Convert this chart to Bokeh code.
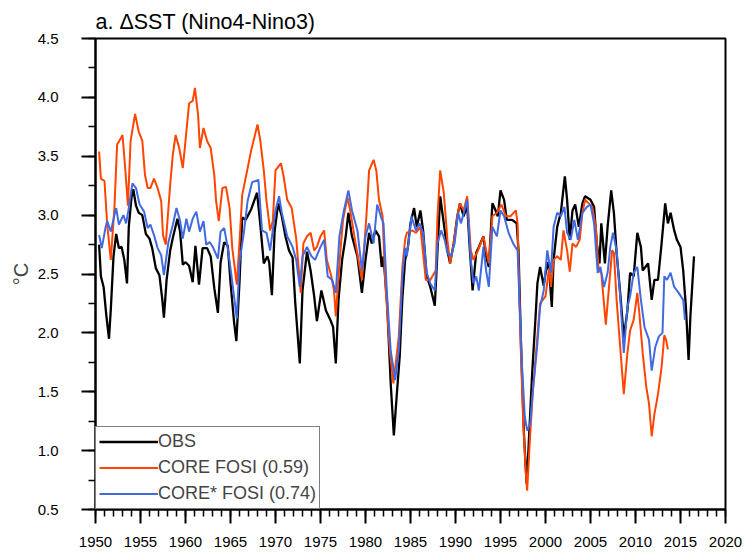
from bokeh.plotting import figure
from bokeh.models import (ColumnDataSource, Range1d, SingleIntervalTicker, PrintfTickFormatter,
                          Legend, LegendItem)
from bokeh.embed import file_html
from bokeh.resources import INLINE

# ---------------- data ----------------
obs_year = [1950.4, 1950.6, 1950.9, 1951.2, 1951.5, 1951.7, 1952.0, 1952.3, 1952.6, 1952.9,
            1953.2, 1953.5, 1953.7, 1954.0, 1954.2, 1954.5, 1954.8, 1955.2, 1955.6, 1956.0,
            1956.3, 1956.7, 1957.1, 1957.4, 1957.6, 1957.9, 1958.3, 1958.6, 1959.1, 1959.4,
            1959.7, 1960.0, 1960.4, 1960.8, 1961.1, 1961.5, 1961.9, 1962.4, 1962.8, 1963.2,
            1963.6, 1963.9, 1964.3, 1964.7, 1965.0, 1965.4, 1965.65, 1966.0, 1966.3, 1966.7,
            1967.3, 1967.95, 1968.3, 1968.7, 1969.1, 1969.3, 1969.6, 1969.9, 1970.3, 1970.7,
            1971.1, 1971.5, 1971.9, 1972.2, 1972.7, 1973.0, 1973.5, 1973.9, 1974.3, 1974.6,
            1975.1, 1975.6, 1976.1, 1976.4, 1976.7, 1977.0, 1977.4, 1977.8, 1978.1, 1978.5,
            1979.1, 1979.6, 1980.0, 1980.4, 1980.7, 1981.1, 1981.5, 1981.8, 1982.0, 1982.4,
            1982.8, 1983.15, 1983.5, 1983.8, 1984.1, 1984.4, 1984.7, 1985.0, 1985.4, 1985.7,
            1986.1, 1986.4, 1986.8, 1987.2, 1987.7, 1988.0, 1988.3, 1988.7, 1989.1, 1989.4,
            1989.8, 1990.2, 1990.5, 1990.9, 1991.3, 1991.6, 1991.9, 1992.3, 1992.6, 1993.1,
            1993.4, 1993.7, 1994.1, 1994.4, 1994.7, 1995.0, 1995.4, 1995.7, 1996.3, 1996.8,
            1997.0, 1997.3, 1997.6, 1997.9, 1998.1, 1998.5, 1998.9, 1999.1, 1999.4, 1999.8,
            2000.2, 2000.4, 2000.7, 2000.9, 2001.3, 2001.7, 2002.15, 2002.4, 2002.7, 2003.0,
            2003.3, 2003.7, 2004.1, 2004.4, 2005.0, 2005.4, 2005.7, 2006.0, 2006.2, 2006.6,
            2006.9, 2007.3, 2007.6, 2007.9, 2008.3, 2008.7, 2009.1, 2009.4, 2009.8, 2010.2,
            2010.6, 2010.8, 2011.1, 2011.4, 2011.8, 2012.1, 2012.5, 2012.9, 2013.3, 2013.6,
            2013.9, 2014.3, 2014.6, 2015.0, 2015.3, 2015.6, 2015.9, 2016.1, 2016.5]
obs_val = [2.75, 2.48, 2.39, 2.15, 1.95, 2.2, 2.65, 2.84, 2.72, 2.73,
           2.62, 2.42, 2.9, 3.15, 3.22, 3.08, 3.02, 3.0, 2.84, 2.8,
           2.72, 2.55, 2.49, 2.3, 2.13, 2.45, 2.7, 2.81, 2.97, 2.86,
           2.58, 2.6, 2.57, 2.43, 2.74, 2.41, 2.72, 2.72, 2.65, 2.38,
           2.17, 2.6, 2.77, 2.74, 2.43, 2.09, 1.93, 2.43, 2.98, 2.96,
           3.05, 3.19, 2.93, 2.59, 2.65, 2.6, 2.32, 2.86, 3.1, 2.99,
           2.82, 2.7, 2.64, 2.25, 1.74, 2.36, 2.69, 2.53, 2.31, 2.1,
           2.36, 2.19, 2.11, 2.05, 1.74, 2.28, 2.62, 2.82, 3.02, 2.82,
           2.65, 2.34, 2.62, 2.85, 2.76, 2.87, 2.82, 2.56, 2.65, 2.25,
           1.57, 1.13, 1.5, 1.8, 2.3, 2.62, 2.72, 2.93, 3.06, 2.9,
           3.04, 2.87, 2.48, 2.39, 2.23, 2.7, 3.16, 2.93, 2.7, 2.59,
           2.76, 2.99, 3.1, 2.99, 3.08, 2.7, 2.36, 2.68, 2.73, 2.82,
           2.65, 2.56, 3.1, 3.05, 2.99, 3.21, 3.13, 2.96, 2.96, 2.93,
           2.7, 1.85, 1.15, 0.72, 1.0, 1.63, 2.14, 2.42, 2.56, 2.4,
           2.6, 2.53, 2.22, 2.62, 2.9, 3.02, 3.33, 3.13, 2.79, 3.04,
           3.09, 2.9, 3.1, 3.16, 3.13, 3.07, 2.76, 2.59, 2.93, 2.59,
           2.9, 3.21, 3.02, 2.68, 2.34, 1.96, 2.19, 2.51, 2.48, 2.85,
           2.73, 2.53, 2.56, 2.59, 2.28, 2.45, 2.45, 2.76, 3.1, 2.93,
           3.02, 2.87, 2.79, 2.73, 2.53, 2.22, 1.77, 2.14, 2.65]

core_year = [1950.4, 1950.6, 1951.0, 1951.3, 1951.7, 1952.1, 1952.4, 1952.8, 1953.0, 1953.3,
             1953.6, 1953.9, 1954.4, 1954.8, 1955.2, 1955.5, 1955.8, 1956.1, 1956.5, 1956.9,
             1957.3, 1957.5, 1957.8, 1958.3, 1958.6, 1958.9, 1959.3, 1959.7, 1960.0, 1960.4,
             1960.8, 1961.05, 1961.4, 1961.6, 1962.0, 1962.4, 1962.8, 1963.2, 1963.4, 1963.7,
             1964.1, 1964.5, 1964.9, 1965.2, 1965.7, 1966.0, 1966.3, 1966.8, 1967.3, 1968.0,
             1968.3, 1968.7, 1969.0, 1969.4, 1969.7, 1970.0, 1970.6, 1970.9, 1971.3, 1971.8,
             1972.3, 1972.8, 1973.1, 1973.5, 1973.9, 1974.3, 1974.6, 1975.0, 1975.4, 1975.7,
             1976.2, 1976.5, 1976.7, 1977.1, 1977.5, 1978.0, 1978.3, 1978.9, 1979.6, 1980.1,
             1980.4, 1980.9, 1981.2, 1981.5, 1981.9, 1982.2, 1982.7, 1983.1, 1983.7, 1984.1,
             1984.4, 1984.6, 1985.2, 1985.6, 1986.1, 1986.7, 1987.2, 1987.8, 1988.0, 1988.3,
             1988.7, 1989.1, 1989.4, 1989.8, 1990.2, 1990.5, 1990.9, 1991.3, 1991.7, 1992.0,
             1992.5, 1993.1, 1993.4, 1993.7, 1994.1, 1994.6, 1995.1, 1995.6, 1996.1, 1996.7,
             1996.9, 1997.2, 1997.5, 1997.8, 1997.96, 1998.3, 1998.6, 1999.1, 1999.4, 2000.0,
             2000.4, 2000.6, 2000.9, 2001.3, 2001.7, 2002.0, 2002.4, 2002.7, 2003.0, 2003.4,
             2003.8, 2004.1, 2004.4, 2004.8, 2005.2, 2005.6, 2005.9, 2006.2, 2006.7, 2007.0,
             2007.4, 2007.6, 2007.9, 2008.3, 2008.7, 2009.1, 2009.4, 2009.8, 2010.2, 2010.4,
             2010.8, 2011.2, 2011.5, 2011.8, 2012.1, 2012.5, 2012.9, 2013.2, 2013.4, 2013.6]
core_val = [3.54, 3.31, 3.29, 2.92, 2.62, 3.06, 3.6, 3.65, 3.68, 3.4,
            3.08, 3.63, 3.86, 3.71, 3.63, 3.34, 3.23, 3.23, 3.31, 3.23,
            3.12, 2.83, 2.75, 3.26, 3.52, 3.68, 3.57, 3.4, 3.63, 3.95,
            3.97, 4.08, 3.85, 3.57, 3.74, 3.63, 3.57, 3.34, 3.12, 2.95,
            3.23, 3.24, 3.06, 2.72, 2.41, 2.77, 3.17, 3.36, 3.55, 3.77,
            3.64, 3.38, 3.12, 2.87, 2.95, 3.38, 3.44, 3.33, 3.13, 3.06,
            2.8, 2.34, 2.76, 2.82, 2.85, 2.7, 2.73, 2.82, 2.87, 2.62,
            2.48, 2.36, 2.14, 2.59, 2.96, 3.15, 3.04, 2.76, 2.45, 2.99,
            3.38, 3.47, 3.38, 3.13, 2.99, 2.42, 1.85, 1.57, 1.97, 2.56,
            2.79, 2.85, 2.87, 2.85, 2.9, 2.45, 2.45, 2.53, 2.99, 3.38,
            3.19, 2.79, 2.59, 2.76, 2.99, 3.1, 3.04, 3.16, 2.7, 2.62,
            2.7, 2.82, 2.7, 2.59, 2.99, 3.02, 3.09, 2.99, 2.99, 3.04,
            2.93, 1.99, 1.29, 0.83, 0.66, 1.14, 1.51, 1.97, 2.25, 2.31,
            2.55, 2.39, 2.62, 2.65, 2.62, 2.87, 2.7, 2.52, 2.76, 2.73,
            2.79, 3.02, 3.13, 3.1, 3.07, 2.9, 2.53, 2.51, 2.07, 2.34,
            2.7, 2.68, 2.28, 1.88, 1.48, 1.83, 2.02, 2.11, 2.34, 2.19,
            1.83, 1.54, 1.4, 1.12, 1.31, 1.48, 1.71, 1.98, 1.94, 1.86]

cores_year = [1950.4, 1950.7, 1951.1, 1951.3, 1951.7, 1952.1, 1952.3, 1952.6, 1953.1, 1953.4,
              1953.7, 1954.1, 1954.5, 1954.9, 1955.4, 1955.8, 1956.1, 1956.5, 1956.9, 1957.3,
              1957.6, 1958.1, 1958.6, 1959.0, 1959.4, 1959.7, 1960.1, 1960.4, 1960.8, 1961.2,
              1961.6, 1962.0, 1962.3, 1962.7, 1963.1, 1963.6, 1963.9, 1964.3, 1964.7, 1965.1,
              1965.7, 1966.0, 1966.5, 1966.9, 1967.4, 1967.8, 1968.1, 1968.5, 1969.0, 1969.4,
              1970.0, 1970.4, 1970.7, 1971.3, 1971.9, 1972.3, 1972.7, 1973.0, 1973.5, 1974.0,
              1974.4, 1975.0, 1975.4, 1975.8, 1976.3, 1976.7, 1977.1, 1977.6, 1978.1, 1978.5,
              1979.1, 1979.6, 1980.0, 1980.4, 1980.9, 1981.3, 1981.7, 1982.0, 1982.4, 1982.8,
              1983.3, 1983.7, 1984.1, 1984.4, 1984.6, 1985.1, 1985.6, 1986.0, 1986.4, 1986.8,
              1987.2, 1987.7, 1988.0, 1988.4, 1988.8, 1989.1, 1989.5, 1989.9, 1990.3, 1990.6,
              1991.0, 1991.3, 1991.7, 1992.0, 1992.3, 1992.6, 1993.1, 1993.4, 1993.7, 1994.1,
              1994.6, 1995.0, 1995.4, 1995.9, 1996.4, 1996.9, 1997.1, 1997.4, 1997.7, 1997.96,
              1998.3, 1998.6, 1999.1, 1999.4, 1999.8, 2000.2, 2000.6, 2000.9, 2001.3, 2001.7,
              2002.1, 2002.4, 2002.8, 2003.2, 2003.6, 2004.1, 2004.6, 2005.0, 2005.4, 2005.8,
              2006.1, 2006.5, 2006.9, 2007.2, 2007.5, 2007.9, 2008.3, 2008.7, 2009.1, 2009.4,
              2009.8, 2010.2, 2010.6, 2011.0, 2011.5, 2011.8, 2012.2, 2012.6, 2013.0, 2013.2,
              2013.5, 2013.9, 2014.3, 2014.8, 2015.3, 2015.5]
cores_val = [2.83, 2.72, 2.89, 2.95, 2.86, 3.0, 3.06, 2.92, 3.0, 2.93,
             3.06, 3.27, 3.23, 3.09, 3.03, 2.89, 2.92, 2.83, 2.72, 2.66,
             2.49, 2.77, 2.92, 3.06, 2.95, 2.8, 2.97, 2.86, 2.97, 3.03,
             2.86, 2.95, 2.75, 2.77, 2.72, 2.63, 2.86, 2.89, 2.72, 2.49,
             2.12, 2.6, 2.86, 3.12, 3.28, 3.29, 3.3, 2.87, 2.85, 2.7,
             3.04, 3.16, 3.02, 2.82, 2.73, 2.62, 2.39, 2.65, 2.73, 2.65,
             2.62, 2.73, 2.79, 2.48, 2.45, 2.34, 2.82, 3.04, 3.21, 3.04,
             2.87, 2.53, 2.82, 2.93, 2.76, 3.09, 2.99, 2.93, 2.31, 1.85,
             1.6, 1.85, 2.48, 2.72, 2.65, 2.99, 2.87, 2.93, 2.85, 2.51,
             2.42, 2.36, 2.76, 2.87, 2.79, 2.68, 2.65, 2.76, 3.02, 2.93,
             3.04, 3.13, 2.62, 2.42, 2.48, 2.36, 2.73, 2.53, 2.39, 2.9,
             2.82, 3.04, 2.99, 2.85, 2.76, 2.7, 2.28, 1.71, 1.29, 1.17,
             1.23, 1.51, 1.91, 2.22, 2.36, 2.7, 2.51, 2.9, 3.02, 2.99,
             3.07, 2.85, 2.79, 2.96, 2.79, 3.02, 3.07, 3.09, 2.93, 2.51,
             2.56, 2.39, 2.51, 2.73, 2.85, 2.7, 2.31, 1.83, 2.22, 2.31,
             2.51, 2.56, 2.28, 2.05, 1.94, 1.68, 1.88, 1.97, 2.0, 2.48,
             2.45, 2.51, 2.39, 2.34, 2.28, 2.11]

series_labels = ["OBS", "CORE FOSI (0.59)", "CORE* FOSI (0.74)"]
title_text = "a. \u0394SST (Nino4-Nino3)"
y_label = "\u00b0C"

FONT = "Liberation Sans"

p = figure(width=746, height=552, output_backend="svg", toolbar_location=None,
           x_range=Range1d(1950, 2020), y_range=Range1d(0.5, 4.5))
p.min_border_left = 95
p.min_border_right = 21
p.min_border_top = 38
p.min_border_bottom = 43
p.background_fill_color = "white"
p.border_fill_color = "white"
p.outline_line_color = "black"
p.outline_line_width = 2
p.xgrid.visible = False
p.ygrid.visible = False

p.title.text = title_text
p.title.align = "left"
p.title.text_font = FONT
p.title.text_font_size = "21.5px"
p.title.text_font_style = "normal"
p.title.text_color = "black"
p.title.standoff = 9

xa = p.xaxis[0]
xa.ticker = SingleIntervalTicker(interval=5, num_minor_ticks=5)
xa.formatter = PrintfTickFormatter(format="%d")
ya = p.yaxis[0]
ya.ticker = SingleIntervalTicker(interval=0.5, num_minor_ticks=2)
ya.formatter = PrintfTickFormatter(format="%.1f")
ya.axis_label = y_label
ya.axis_label_text_font = FONT
ya.axis_label_text_font_size = "20px"
ya.axis_label_text_font_style = "normal"

for ax in (xa, ya):
    ax.axis_line_width = 2
    ax.axis_line_color = "black"
    ax.major_tick_in = 0
    ax.major_tick_out = 14
    ax.minor_tick_in = 0
    ax.minor_tick_out = 7
    ax.major_tick_line_width = 2
    ax.minor_tick_line_width = 1.5
    ax.major_label_text_font = FONT
    ax.major_label_text_font_size = "15px"
    ax.major_label_text_color = "black"

xa.major_label_standoff = 13
ya.major_label_standoff = 23
ya.axis_label_standoff = 3

s_obs = ColumnDataSource(dict(x=obs_year, y=obs_val))
s_core = ColumnDataSource(dict(x=core_year, y=core_val))
s_cores = ColumnDataSource(dict(x=cores_year, y=cores_val))

r_obs = p.line("x", "y", source=s_obs, line_color="black", line_width=2.3)
r_core = p.line("x", "y", source=s_core, line_color="#FF4500", line_width=2)
r_cores = p.line("x", "y", source=s_cores, line_color="#4169E1", line_width=2)

legend = Legend(items=[LegendItem(label=series_labels[0], renderers=[r_obs]),
                       LegendItem(label=series_labels[1], renderers=[r_core]),
                       LegendItem(label=series_labels[2], renderers=[r_cores])],
                location="bottom_left", margin=0, padding=3, spacing=3,
                glyph_width=59, glyph_height=23, label_height=23, label_standoff=0,
                label_text_font=FONT, label_text_font_size="18px",
                border_line_color="black", border_line_width=1,
                background_fill_color="white", background_fill_alpha=1.0)
p.add_layout(legend, "center")

open("out.html", "w").write(file_html(p, INLINE))
